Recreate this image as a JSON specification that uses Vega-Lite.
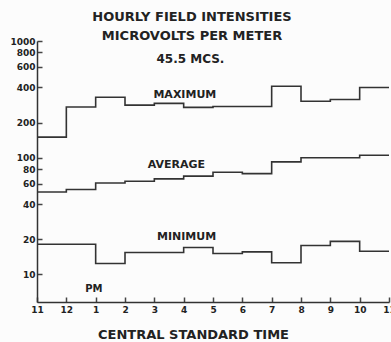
{
  "$schema": "https://vega.github.io/schema/vega-lite/v6.json",
  "width": 352,
  "height": 261,
  "autosize": "none",
  "padding": {"left": 37, "top": 41, "right": 2, "bottom": 40},
  "background": "#fcfcfc",
  "config": {"view": {"stroke": null}, "font": "DejaVu Sans"},
  "title": {
    "text": "HOURLY FIELD INTENSITIES",
    "subtitle": "MICROVOLTS PER METER",
    "fontSize": 13,
    "subtitleFontSize": 13,
    "fontWeight": "bold",
    "subtitleFontWeight": "bold",
    "color": "#222222",
    "subtitleColor": "#222222",
    "font": "DejaVu Sans",
    "subtitleFont": "DejaVu Sans",
    "anchor": "middle",
    "frame": "group",
    "dx": -21,
    "offset": -6,
    "subtitlePadding": 6
  },
  "datasets": {
    "series": [
      {"series": "Maximum", "hour": 0, "value": 150},
      {"series": "Maximum", "hour": 1, "value": 272},
      {"series": "Maximum", "hour": 2, "value": 330},
      {"series": "Maximum", "hour": 3, "value": 282},
      {"series": "Maximum", "hour": 4, "value": 292},
      {"series": "Maximum", "hour": 5, "value": 270},
      {"series": "Maximum", "hour": 6, "value": 275},
      {"series": "Maximum", "hour": 7, "value": 275},
      {"series": "Maximum", "hour": 8, "value": 410},
      {"series": "Maximum", "hour": 9, "value": 305},
      {"series": "Maximum", "hour": 10, "value": 315},
      {"series": "Maximum", "hour": 11, "value": 400},
      {"series": "Maximum", "hour": 12, "value": 400},
      {"series": "Average", "hour": 0, "value": 50.8},
      {"series": "Average", "hour": 1, "value": 53.4},
      {"series": "Average", "hour": 2, "value": 60.7},
      {"series": "Average", "hour": 3, "value": 62.8},
      {"series": "Average", "hour": 4, "value": 65.8},
      {"series": "Average", "hour": 5, "value": 69.5},
      {"series": "Average", "hour": 6, "value": 75},
      {"series": "Average", "hour": 7, "value": 73},
      {"series": "Average", "hour": 8, "value": 92},
      {"series": "Average", "hour": 9, "value": 100},
      {"series": "Average", "hour": 10, "value": 100},
      {"series": "Average", "hour": 11, "value": 105},
      {"series": "Average", "hour": 12, "value": 105},
      {"series": "Minimum", "hour": 0, "value": 18.1},
      {"series": "Minimum", "hour": 1, "value": 18.1},
      {"series": "Minimum", "hour": 2, "value": 12.4},
      {"series": "Minimum", "hour": 3, "value": 15.4},
      {"series": "Minimum", "hour": 4, "value": 15.4},
      {"series": "Minimum", "hour": 5, "value": 17.0},
      {"series": "Minimum", "hour": 6, "value": 15.1},
      {"series": "Minimum", "hour": 7, "value": 15.6},
      {"series": "Minimum", "hour": 8, "value": 12.6},
      {"series": "Minimum", "hour": 9, "value": 17.7},
      {"series": "Minimum", "hour": 10, "value": 19.2},
      {"series": "Minimum", "hour": 11, "value": 15.8},
      {"series": "Minimum", "hour": 12, "value": 15.8}
    ],
    "notes": [
      {"label": "MAXIMUM", "kind": "series", "hour": 5.04, "value": 343},
      {"label": "AVERAGE", "kind": "series", "hour": 4.75, "value": 86},
      {"label": "MINIMUM", "kind": "series", "hour": 5.1, "value": 20.8},
      {"label": "PM", "kind": "pm", "hour": 1.94, "value": 7.46},
      {"label": "45.5 MCS.", "kind": "freq", "hour": 5.23, "value": 697}
    ]
  },
  "encoding": {
    "x": {
      "field": "hour",
      "type": "quantitative",
      "scale": {"domain": [0, 12], "nice": false, "zero": false},
      "axis": {
        "values": [0, 1, 2, 3, 4, 5, 6, 7, 8, 9, 10, 11, 12],
        "labelExpr": "['11','12','1','2','3','4','5','6','7','8','9','10','11'][round(datum.value)]",
        "labelOverlap": false,
        "labelBound": false,
        "grid": false,
        "ticks": true,
        "tickSize": -5,
        "tickWidth": 1.5,
        "tickColor": "#444444",
        "domainColor": "#333333",
        "domainWidth": 1.5,
        "labelFontSize": 9,
        "labelFontWeight": "bold",
        "labelColor": "#222222",
        "labelPadding": 8,
        "labelFlush": false,
        "title": "CENTRAL STANDARD TIME",
        "titleFontSize": 13,
        "titleFontWeight": "bold",
        "titleColor": "#222222",
        "titleX": 156,
        "titleY": 36,
        "titleBaseline": "alphabetic",
        "titleAlign": "center"
      }
    },
    "y": {
      "field": "value",
      "type": "quantitative",
      "scale": {"type": "log", "domain": [5.8, 1000], "nice": false},
      "axis": {
        "values": [10, 20, 40, 60, 80, 100, 200, 400, 600, 800, 1000],
        "format": "d",
        "labelOverlap": false,
        "grid": false,
        "ticks": true,
        "tickSize": -5,
        "tickWidth": 1.5,
        "tickColor": "#444444",
        "domainColor": "#333333",
        "domainWidth": 1.5,
        "labelFontSize": 9,
        "labelFontWeight": "bold",
        "labelColor": "#222222",
        "labelPadding": 7,
        "labelFlush": false,
        "title": null
      }
    }
  },
  "layer": [
    {
      "data": {"name": "series"},
      "mark": {"type": "line", "interpolate": "step-after", "color": "#333333", "strokeWidth": 1.6},
      "encoding": {
        "detail": {"field": "series"}
      }
    },
    {
      "data": {"name": "notes"},
      "transform": [{"filter": "datum.kind === 'series'"}],
      "mark": {"type": "text", "fontWeight": "bold", "fontSize": 11, "color": "#222222"},
      "encoding": {
        "text": {"field": "label"}
      }
    },
    {
      "data": {"name": "notes"},
      "transform": [{"filter": "datum.kind === 'pm'"}],
      "mark": {"type": "text", "fontWeight": "bold", "fontSize": 10, "color": "#222222"},
      "encoding": {
        "text": {"field": "label"}
      }
    },
    {
      "data": {"name": "notes"},
      "transform": [{"filter": "datum.kind === 'freq'"}],
      "mark": {"type": "text", "fontWeight": "bold", "fontSize": 12, "color": "#222222"},
      "encoding": {
        "text": {"field": "label"}
      }
    }
  ]
}
